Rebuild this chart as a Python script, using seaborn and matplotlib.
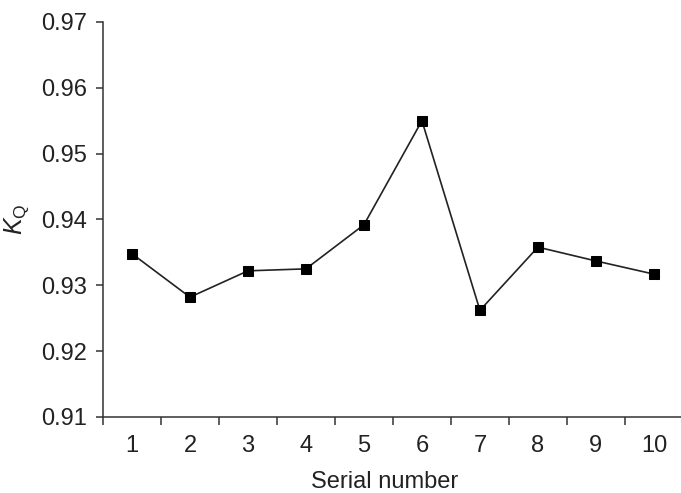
import numpy as np
import pandas as pd
import matplotlib
matplotlib.use("Agg")
import matplotlib.pyplot as plt
import seaborn as sns

serial = [1, 2, 3, 4, 5, 6, 7, 8, 9, 10]
kq = [0.9348, 0.9282, 0.9322, 0.9325, 0.9392, 0.9550, 0.9262, 0.9358, 0.9337, 0.9317]
y_ticks = [0.91, 0.92, 0.93, 0.94, 0.95, 0.96, 0.97]

df = pd.DataFrame({"serial": serial, "kq": kq})

sns.set_style("ticks")
plt.rcParams["font.family"] = ["Liberation Sans", "DejaVu Sans"]
plt.rcParams["mathtext.fontset"] = "custom"
plt.rcParams["mathtext.rm"] = "Liberation Sans"
plt.rcParams["mathtext.it"] = "Liberation Sans:italic"

fig = plt.figure(figsize=(6.81, 4.93), dpi=100)
ax = fig.add_axes([0.1512, 0.1542, 0.8516, 0.8012])

sns.lineplot(data=df, x="serial", y="kq", ax=ax, color="#222222", linewidth=1.2,
             marker="s", markersize=6.5, markeredgecolor="black", markerfacecolor="black")

ax.set_xlim(0.5, 10.5)
ax.set_ylim(0.91, 0.97)
ax.set_yticks(y_ticks)
ax.set_yticklabels([f"{v:.2f}" for v in y_ticks])
ax.set_xticks(serial)
ax.set_xticklabels([str(s) for s in serial])
ax.set_xticks(np.arange(0.5, 11, 1.0), minor=True)

text_color = "#222222"
ax.tick_params(axis="x", which="major", length=0, pad=13, labelsize=17, colors=text_color)
ax.tick_params(axis="x", which="minor", length=6, width=1.1, direction="out", color="#333333")
ax.tick_params(axis="y", which="major", length=5, width=1.1, pad=6.5, labelsize=17, colors=text_color)
ax.tick_params(axis="y", which="major", color="#333333")

for side in ["top", "right"]:
    ax.spines[side].set_visible(False)
for side in ["left", "bottom"]:
    ax.spines[side].set_linewidth(1.1)
    ax.spines[side].set_color("#333333")

ax.set_xlabel("Serial number", fontsize=17, labelpad=9, color=text_color)
ax.xaxis.set_label_coords(0.485, -0.136)
ax.set_ylabel(r"$K_\mathrm{Q}$", fontsize=18, labelpad=7, color=text_color)

fig.savefig("out.png", dpi=100)
